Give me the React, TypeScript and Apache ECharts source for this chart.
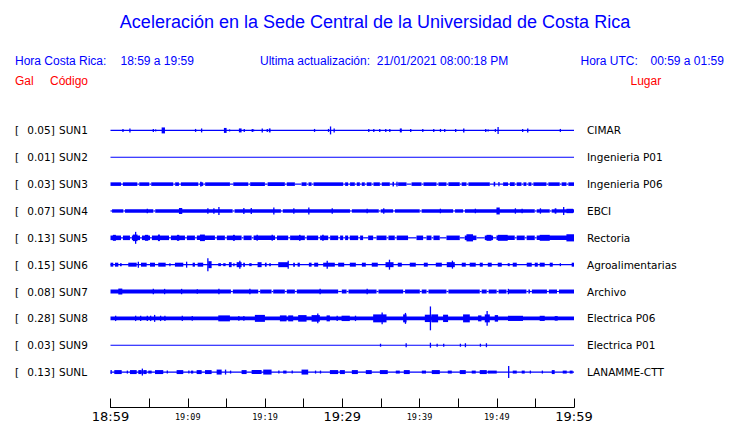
import React, { useEffect, useRef } from "react";
import * as echarts from "echarts";

// ---- data ----
const codes = ["SUN1", "SUN2", "SUN3", "SUN4", "SUN5", "SUN6", "SUN7", "SUN8", "SUN9", "SUNL"];
const places = ["CIMAR", "Ingenieria P01", "Ingenieria P06", "EBCI", "Rectoria", "Agroalimentarias", "Archivo", "Electrica P06", "Electrica P01", "LANAMME-CTT"];
const peaks = [0.05, 0.01, 0.03, 0.07, 0.13, 0.15, 0.08, 0.28, 0.03, 0.13];
const timeLabels = ["18:59", "19:09", "19:19", "19:29", "19:39", "19:49", "19:59"];
const bigLabels = ["18:59", "19:29", "19:59"];
// minutes after 18:59
const SPAN = 60;
// continuous band half-amplitude of each trace
const baseAmp = [0.6, 0.6, 1.8, 1.7, 2.3, 0.6, 2.0, 2.0, 0.6, 0.6];
const thinAmp = 0.6;

// quiet stretches [start, end] (end == start: brief)
const gaps1: number[][] = [];
const gaps2: number[][] = [];
const gaps3 = [[1.36, 1.36], [3.47, 3.47], [5.02, 5.02], [8.12, 8.12], [8.86, 8.86], [11.36, 11.36], [12.0, 12.0], [15.46, 15.89], [17.83, 17.83], [19.99, 20.34], [22.57, 22.57], [23.87, 24.73], [25.38, 25.38], [26.03, 26.03], [30.12, 30.12], [30.76, 30.76], [31.63, 31.63], [32.28, 32.28], [32.92, 32.92], [33.79, 33.79], [34.87, 34.87], [36.16, 37.23], [38.32, 38.97], [40.26, 40.26], [42.2, 42.2], [43.49, 43.49], [45.21, 45.21], [46.08, 46.08], [49.1, 50.82], [51.46, 51.46], [52.33, 52.33], [53.2, 53.2], [53.84, 53.84], [54.49, 54.49], [56.43, 56.43], [58.15, 58.15], [59.02, 59.02]];
const gaps4 = [[0, 0.2], [1.66, 1.88], [5.54, 5.54], [15.81, 15.81], [22.06, 22.06], [31.0, 31.0], [34.73, 34.73], [36.58, 36.58], [40.03, 40.03], [44.35, 44.35], [45.64, 45.64], [54.92, 54.92], [56.86, 56.86]];
const gaps5 = [[1.36, 1.36], [2.52, 2.52], [3.82, 3.82], [5.11, 5.11], [7.57, 7.57], [9.64, 9.64], [10.93, 10.93], [13.52, 13.52], [14.81, 14.81], [16.97, 16.97], [18.27, 18.27], [21.3, 21.3], [23.0, 23.0], [25.16, 25.16], [26.88, 26.88], [28.18, 28.18], [29.47, 29.47], [30.12, 30.12], [30.76, 30.98], [32.06, 32.06], [32.7, 33.35], [34.0, 34.44], [35.73, 35.73], [36.8, 36.8], [38.52, 39.61], [40.47, 40.91], [41.55, 41.55], [42.62, 43.49], [45.21, 45.86], [47.37, 48.45], [49.52, 49.96], [52.33, 52.33], [53.62, 53.62], [54.92, 54.92]];
const gaps6: number[][] = [];
const gaps7 = [[15.59, 15.59], [19.12, 19.12], [20.85, 21.06], [22.57, 22.57], [23.87, 23.87], [29.47, 29.47], [29.69, 29.69], [30.56, 30.56], [34.44, 34.44], [37.88, 37.88], [40.04, 40.04], [40.91, 40.91], [43.49, 43.49], [47.8, 47.8], [48.7, 48.7], [49.99, 49.99], [51.26, 51.26], [53.84, 53.84], [54.3, 54.3], [56.5, 56.5], [57.8, 57.8]];
const gaps8: number[][] = [];
const gaps9: number[][] = [];
const gapsL: number[][] = [];

// bursts [start, end, half-amplitude] (end == start: single spike)
const bursts1 = [[1.53, 1.53, 1.5], [2.43, 2.43, 2], [5.46, 5.46, 1.5], [5.76, 5.76, 1], [6.62, 7.05, 3], [10.93, 10.93, 1.5], [11.71, 11.71, 2], [14.68, 15.03, 2.5], [15.33, 15.33, 1], [16.62, 16.97, 2], [17.23, 17.23, 1.5], [18.27, 18.27, 1.5], [18.43, 18.43, 1], [19.56, 19.56, 2], [20.21, 20.21, 1.5], [20.5, 20.72, 2], [26.33, 26.33, 1.5], [28.14, 28.14, 1.5], [28.4, 28.4, 4], [28.87, 28.87, 2], [33.35, 33.35, 1.5], [34.0, 34.0, 1.5], [34.77, 34.77, 1.5], [35.55, 35.55, 1.5], [36.07, 36.07, 1.5], [37.45, 37.71, 2], [38.78, 38.78, 1.5], [40.34, 40.34, 1.5], [41.76, 41.76, 1.5], [42.63, 42.63, 1.5], [43.18, 43.18, 1.5], [44.6, 44.6, 1.5], [45.64, 45.82, 2], [48.49, 48.49, 1.5], [48.8, 48.8, 1], [49.74, 49.74, 1.5], [50.09, 50.09, 3.5], [53.27, 53.27, 1.5], [53.92, 54.1, 2], [58.15, 58.15, 1.5]];
const bursts2: number[][] = [];
const bursts3 = [[11.6, 11.8, 2.3], [36.5, 36.7, 2.3], [37.0, 37.1, 2.3], [49.6, 49.8, 2.3], [50.2, 50.3, 2.1]];
const bursts4 = [[4.68, 4.68, 2.3], [8.86, 9.29, 3], [12.52, 12.52, 2.7], [13.3, 13.3, 2.7], [13.95, 13.95, 4], [17.18, 17.18, 3], [18.14, 18.14, 3], [21.06, 21.06, 3.5], [23.65, 23.65, 2.7], [25.59, 25.59, 3.5], [28.62, 28.62, 2.7], [33.14, 33.14, 2.3], [35.29, 35.29, 2.7], [42.62, 42.62, 2.3], [47.15, 47.15, 2.3], [49.96, 50.39, 3.5], [52.33, 52.33, 2.7], [53.2, 53.2, 2.3], [55.57, 55.57, 2.7], [57.5, 57.72, 2.7], [58.58, 58.58, 4], [59.02, 59.87, 2.2]];
const bursts5 = [[0.3, 0.7, 3], [2.9, 3.5, 3.3], [3.17, 3.17, 6], [4.46, 4.89, 3], [6.14, 6.4, 3.3], [8.6, 8.9, 3], [11.58, 12.22, 3.3], [15.85, 16.1, 3], [18.9, 18.9, 3], [20.85, 20.85, 3], [24.4, 24.6, 3], [27.4, 27.6, 3], [46.08, 46.93, 3.6], [48.67, 49.31, 3], [50.13, 51.42, 3], [55.56, 56.86, 3], [59.02, 60, 3.6]];
const bursts6 = [[0, 0.36, 2], [0.58, 1.01, 2], [1.23, 1.45, 1.5], [2.3, 3.39, 2], [3.52, 3.52, 3], [3.95, 4.68, 2], [5.11, 5.76, 2], [6.18, 7.14, 2], [7.61, 7.61, 1.5], [8.34, 9.42, 2], [9.77, 9.77, 3], [10.63, 10.93, 2], [11.28, 12.0, 2], [12.52, 12.52, 6.5], [12.65, 13.09, 3.5], [13.95, 14.3, 1.5], [14.59, 14.9, 1.5], [15.33, 15.68, 2.5], [15.89, 15.89, 1.5], [16.33, 16.97, 2.5], [16.66, 16.66, 4], [17.18, 17.4, 2], [17.96, 18.27, 1.5], [19.04, 19.56, 2.5], [19.99, 20.21, 2], [20.54, 20.76, 1.5], [21.71, 23.0, 2.5], [22.92, 22.92, 4], [23.65, 23.87, 2], [24.22, 24.51, 2], [25.68, 26.03, 2], [26.37, 26.88, 2], [27.53, 29.04, 2], [27.97, 27.97, 4], [29.47, 30.25, 2], [30.98, 31.76, 2], [32.54, 33.05, 2], [33.82, 34.6, 2], [35.6, 36.64, 2.5], [36.03, 36.03, 5], [37.19, 37.71, 2], [38.74, 39.52, 2], [40.56, 41.07, 2], [42.11, 42.89, 2], [43.53, 44.57, 2.5], [44.18, 44.18, 4], [45.47, 45.99, 2], [46.5, 47.28, 2], [47.8, 48.19, 2], [48.84, 49.35, 2], [50.13, 50.65, 2], [51.42, 51.68, 1.5], [52.07, 52.59, 2], [53.88, 54.53, 2], [54.92, 55.31, 2], [55.56, 56.21, 2], [56.86, 57.25, 2], [58.15, 58.15, 1.5], [59.7, 60, 2]];
const bursts7 = [[1.01, 1.53, 3], [5.46, 5.46, 2.7], [6.92, 6.92, 2.7], [9.12, 9.12, 2.7], [11.15, 11.15, 2.3], [13.95, 13.95, 2.7], [17.96, 17.96, 2.7], [27.05, 27.05, 2.7], [33.14, 33.14, 2.7], [51.42, 51.42, 2.7]];
const bursts8 = [[0.58, 0.58, 2.7], [3.17, 3.17, 2.7], [3.82, 3.82, 2.7], [4.68, 4.68, 2.7], [5.11, 5.11, 2.7], [5.63, 5.63, 3.5], [6.4, 6.4, 2.7], [6.96, 6.96, 2.7], [9.21, 9.21, 2.7], [10.5, 10.5, 2.4], [13.95, 15.46, 3], [16.53, 16.53, 2.4], [17.18, 17.18, 2.4], [18.69, 19.99, 3.5], [21.93, 22.79, 3], [23.0, 23.65, 3], [24.29, 25.38, 3.3], [26.03, 27.1, 3.3], [26.75, 26.75, 5], [27.97, 28.4, 3], [29.26, 29.26, 2.7], [29.91, 30.98, 2.7], [31.63, 31.63, 2.7], [34.0, 35.73, 4], [35.08, 35.08, 5.8], [37.88, 38.32, 4], [38.1, 38.1, 5.5], [40.69, 41.55, 3.7], [41.33, 41.33, 12], [41.55, 42.41, 4], [43.05, 43.7, 3.7], [45.64, 46.51, 4], [47.58, 48.02, 3], [48.45, 49.1, 4], [48.67, 48.67, 7.5], [49.74, 50.17, 3.3], [51.46, 53.4, 2.6], [55.56, 56.21, 2.6], [57.5, 57.89, 2.3]];
const bursts9 = [[34.87, 34.87, 1.5], [38.19, 38.19, 2], [41.33, 41.33, 2.5], [42.2, 42.2, 1.5], [43.05, 43.05, 1.5], [45.21, 45.21, 1.5], [45.86, 45.86, 2], [47.8, 47.8, 1.5], [48.58, 48.58, 2]];
const burstsL = [[0, 0.16, 2], [0.49, 1.45, 2], [2.1, 2.1, 1.5], [2.52, 3.39, 2], [3.6, 4.04, 2], [4.04, 4.04, 3.5], [4.24, 4.68, 2], [4.89, 5.33, 1.5], [5.76, 6.83, 2], [7.27, 7.27, 1.5], [8.56, 9.42, 2], [10.06, 10.06, 1.5], [10.41, 10.71, 1.5], [11.15, 11.8, 2], [12.23, 13.09, 2], [13.74, 14.39, 2.5], [14.81, 14.81, 2.5], [15.46, 15.46, 1.5], [16.97, 17.62, 2], [18.27, 19.56, 2], [19.77, 20.85, 2.5], [21.71, 21.71, 1.5], [22.35, 22.79, 1.5], [23.44, 23.44, 1.5], [24.73, 25.59, 2.5], [26.46, 26.46, 1.5], [27.1, 27.1, 1.5], [28.4, 29.47, 2], [29.69, 30.34, 2], [31.24, 32.02, 2], [33.05, 33.82, 2], [34.87, 35.89, 2], [36.93, 37.45, 1.5], [37.97, 38.74, 2], [40.3, 40.84, 1.5], [41.59, 42.63, 2], [43.66, 44.18, 1.5], [45.21, 45.99, 2], [46.76, 47.28, 1.5], [47.8, 48.71, 2], [48.84, 50.0, 1.5], [51.46, 51.46, 6], [52.07, 52.59, 1.5], [53.23, 53.62, 1.5], [54.27, 54.27, 1.5], [55.82, 55.82, 1.5], [57.12, 57.5, 2], [58.54, 59.06, 1.5], [59.44, 59.83, 1.5]];

const gapLists = [gaps1, gaps2, gaps3, gaps4, gaps5, gaps6, gaps7, gaps8, gaps9, gapsL];
const burstLists = [bursts1, bursts2, bursts3, bursts4, bursts5, bursts6, bursts7, bursts8, bursts9, burstsL];

function buildItems(): number[][] {
  const bases: number[][] = [];
  const extras: number[][] = [];
  for (let r = 0; r < codes.length; r++) {
    const gaps = [...gapLists[r]].sort((a, b) => a[0] - b[0]);
    let cursor = 0;
    for (const g of gaps) {
      const e = g[1] === g[0] ? g[0] + 0.25 : g[1];
      if (g[0] > cursor) bases.push([cursor, g[0], r, baseAmp[r]]);
      bases.push([g[0], e, r, thinAmp]);
      cursor = e;
    }
    if (cursor < SPAN) bases.push([cursor, SPAN, r, baseAmp[r]]);
    for (const b of burstLists[r]) extras.push([b[0], b[1], r, b[2]]);
  }
  return bases.concat(extras);
}

const BLUE = "#0000ff";
const RED = "#ff0000";

export default function App() {
  const ref = useRef<HTMLDivElement>(null);
  useEffect(() => {
    if (!ref.current) return;
    const chart = echarts.init(ref.current, undefined, { renderer: "svg" });
    const items = buildItems();
    const head = (x: number, y: number, text: string, color: string, align = "left", size = 12) => ({
      type: "text",
      x,
      y,
      style: { text, fill: color, font: `${size}px "Liberation Sans", Arial, sans-serif`, textAlign: align, textVerticalAlign: "middle" },
    });
    chart.setOption({
      animation: false,
      backgroundColor: "#ffffff",
      grid: { left: 110.5, width: 463.5, top: 117, height: 270, containLabel: false },
      xAxis: {
        type: "value",
        min: 0,
        max: SPAN,
        interval: 10,
        offset: 22,
        axisLine: { show: true, lineStyle: { color: "#000", width: 1 } },
        axisTick: { show: true, inside: true, length: 9, lineStyle: { color: "#000" } },
        minorTick: { show: true, splitNumber: 2, length: 9, lineStyle: { color: "#000" } },
        splitLine: { show: false },
        minorSplitLine: { show: false },
        axisLabel: {
          margin: 2,
          formatter: (v: number) => {
            const t = timeLabels[Math.round(v / 10)];
            return bigLabels.includes(t) ? `{big|${t}}` : `{small|${t}}`;
          },
          rich: {
            big: { fontSize: 13, fontFamily: "DejaVu Sans", color: "#000", lineHeight: 14 },
            small: { fontSize: 8.5, fontFamily: "DejaVu Sans Mono", color: "#000", lineHeight: 14 },
          },
        },
      },
      yAxis: [
        {
          type: "category",
          data: codes,
          inverse: true,
          axisLine: { show: false },
          axisTick: { show: false },
          splitLine: { show: false },
          axisLabel: {
            margin: 95.5,
            align: "left",
            formatter: (value: string, idx: number) => `{b|[}{v|${peaks[idx].toFixed(2)}]}{c|${value}}`,
            rich: {
              b: { width: 12, fontSize: 10.5, fontFamily: "DejaVu Sans", color: "#000" },
              v: { width: 28, align: "right", fontSize: 10.5, fontFamily: "DejaVu Sans", color: "#000" },
              c: { padding: [0, 0, 0, 4], fontSize: 10.5, fontFamily: "DejaVu Sans", color: "#000" },
            },
          },
        },
        {
          type: "category",
          data: places,
          inverse: true,
          position: "right",
          axisLine: { show: false },
          axisTick: { show: false },
          splitLine: { show: false },
          axisLabel: { margin: 13, fontSize: 10.5, fontFamily: "DejaVu Sans", color: "#000" },
        },
      ],
      series: [
        {
          type: "custom",
          coordinateSystem: "cartesian2d",
          xAxisIndex: 0,
          yAxisIndex: 0,
          data: items,
          encode: { x: [0, 1], y: 2 },
          renderItem: (params: any, api: any) => {
            const s = api.value(0);
            const e = api.value(1);
            const row = api.value(2);
            const amp = api.value(3);
            const p0 = api.coord([s, row]);
            const p1 = api.coord([e, row]);
            const band = api.size([0, 1])[1] || 27;
            const h = Math.max(1, (2 * amp * band) / 27);
            const w = Math.max(1.3, p1[0] - p0[0]);
            return {
              type: "rect",
              shape: { x: p0[0], y: p0[1] - h / 2, width: w, height: h },
              style: { fill: BLUE },
            };
          },
        },
      ],
      graphic: [
        head(375, 22, "Aceleración en la Sede Central de la Universidad de Costa Rica", BLUE, "center", 18),
        head(15, 61, "Hora Costa Rica:", BLUE),
        head(120.5, 61, "18:59 a 19:59", BLUE),
        head(260, 61, "Ultima actualización:  21/01/2021 08:00:18 PM", BLUE),
        head(580.5, 61, "Hora UTC:", BLUE),
        head(650.5, 61, "00:59 a 01:59", BLUE),
        head(15, 81, "Gal", RED),
        head(50, 81, "Código", RED),
        head(630.5, 81, "Lugar", RED),
      ],
    });
    return () => chart.dispose();
  }, []);
  return <div ref={ref} style={{ width: 740, height: 423, position: "absolute", left: 0, top: 0 }} />;
}
